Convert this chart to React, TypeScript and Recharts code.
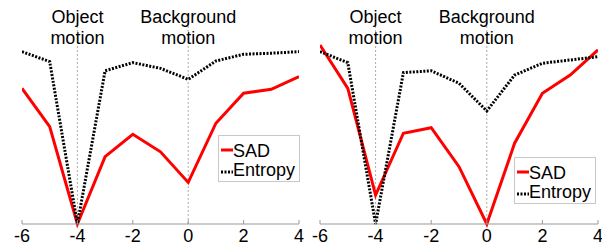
import React from "react";
import { LineChart, Line, XAxis, YAxis, ReferenceLine } from "recharts";

const offsets = [-6, -5, -4, -3, -2, -1, 0, 1, 2, 3, 4];
const xTicks = [-6, -4, -2, 0, 2, 4];

const leftSAD = [0.665, 0.477, 0.0, 0.33, 0.44, 0.354, 0.204, 0.494, 0.641, 0.66, 0.722];
const leftEntropy = [0.845, 0.796, 0.0, 0.751, 0.791, 0.763, 0.709, 0.799, 0.832, 0.837, 0.845];
const rightSAD = [0.877, 0.665, 0.142, 0.445, 0.472, 0.281, 0.0, 0.396, 0.641, 0.73, 0.853];
const rightEntropy = [0.845, 0.791, 0.0, 0.742, 0.751, 0.69, 0.554, 0.73, 0.788, 0.804, 0.82];

const objectLabel = ["Object", "motion"];
const backgroundLabel = ["Background", "motion"];
const seriesNames = ["SAD", "Entropy"];

const FONT = "'Liberation Sans', Arial, sans-serif";

const build = (sad: number[], ent: number[]) =>
  offsets.map((o, i) => ({ x: o, sad: sad[i], entropy: ent[i] }));

const RefLabel = (props: any) => {
  const { viewBox, lines } = props;
  const x = viewBox.x;
  const y = viewBox.y;
  return (
    <text x={x} y={y + 3} textAnchor="middle" fontFamily={FONT} fontSize={18} fill="#000">
      <tspan x={x} dy={0}>{lines[0]}</tspan>
      <tspan x={x} dy={21}>{lines[1]}</tspan>
    </text>
  );
};

const Tick = (props: any) => {
  const { x, y, payload } = props;
  return (
    <g>
      <line x1={x} x2={x} y1={y - 4} y2={y} stroke="#999" strokeWidth={1} />
      <text x={x} y={y + 17.5} textAnchor="middle" fontFamily={FONT} fontSize={18} fill="#000">
        {payload.value}
      </text>
    </g>
  );
};

const LegendBox = ({ boxLeft, boxTop }: { boxLeft: number; boxTop: number }) => (
  <div
    style={{
      position: "absolute",
      left: boxLeft,
      top: boxTop,
      width: 82,
      height: 47,
      border: "1px solid #c8c8c8",
      background: "#fff",
      boxSizing: "border-box",
    }}
  >
    <svg width={82} height={47} style={{ position: "absolute", left: -1, top: -1 }}>
      <line x1={3} x2={15} y1={15} y2={15} stroke="#ff0000" strokeWidth={3} />
      <line x1={3} x2={15} y1={37} y2={37} stroke="#000" strokeWidth={3} strokeDasharray="2 1.5" />
      <text x={15} y={21.5} fontFamily={FONT} fontSize={18} fill="#000">{seriesNames[0]}</text>
      <text x={15} y={41} fontFamily={FONT} fontSize={18} fill="#000">{seriesNames[1]}</text>
    </svg>
  </div>
);

const Panel = ({
  data,
  width,
  marginLeft,
  marginRight,
}: {
  data: any[];
  width: number;
  marginLeft: number;
  marginRight: number;
}) => (
  <LineChart
    width={width}
    height={244}
    data={data}
    margin={{ top: 20, right: marginRight, bottom: 0, left: marginLeft }}
    style={{ overflow: "visible" }}
  >
    <XAxis
      dataKey="x"
      type="number"
      domain={[-6, 4]}
      ticks={xTicks}
      height={20}
      tickSize={0}
      tickMargin={0}
      tickLine={false}
      axisLine={{ stroke: "#999" }}
      tick={<Tick />}
      interval={0}
      allowDataOverflow
    />
    <YAxis type="number" domain={[0, 1]} width={0} tick={false} tickLine={false} axisLine={{ stroke: "#999" }} />
    <ReferenceLine
      x={-4}
      stroke="#aaa"
      strokeDasharray="2 2"
      strokeWidth={1}
      label={(p: any) => <RefLabel {...p} lines={objectLabel} />}
    />
    <ReferenceLine
      x={0}
      stroke="#aaa"
      strokeDasharray="2 2"
      strokeWidth={1}
      label={(p: any) => <RefLabel {...p} lines={backgroundLabel} />}
    />
    <Line
      type="linear"
      dataKey="sad"
      name={seriesNames[0]}
      stroke="#ff0000"
      strokeWidth={3}
      dot={false}
      isAnimationActive={false}
    />
    <Line
      type="linear"
      dataKey="entropy"
      name={seriesNames[1]}
      stroke="#000"
      strokeWidth={3}
      strokeDasharray="2 1.5"
      dot={false}
      isAnimationActive={false}
    />
  </LineChart>
);

export default function App() {
  return (
    <div style={{ position: "absolute", left: 0, top: 0, width: 602, height: 244, background: "#fff", overflow: "hidden" }}>
      <div style={{ position: "absolute", left: 0, top: 0 }}>
        <Panel data={build(leftSAD, leftEntropy)} width={310} marginLeft={22} marginRight={11} />
      </div>
      <div style={{ position: "absolute", left: 300, top: 0 }}>
        <Panel data={build(rightSAD, rightEntropy)} width={302} marginLeft={20} marginRight={4} />
      </div>
      <LegendBox boxLeft={218} boxTop={135} />
      <LegendBox boxLeft={514} boxTop={157} />
    </div>
  );
}
